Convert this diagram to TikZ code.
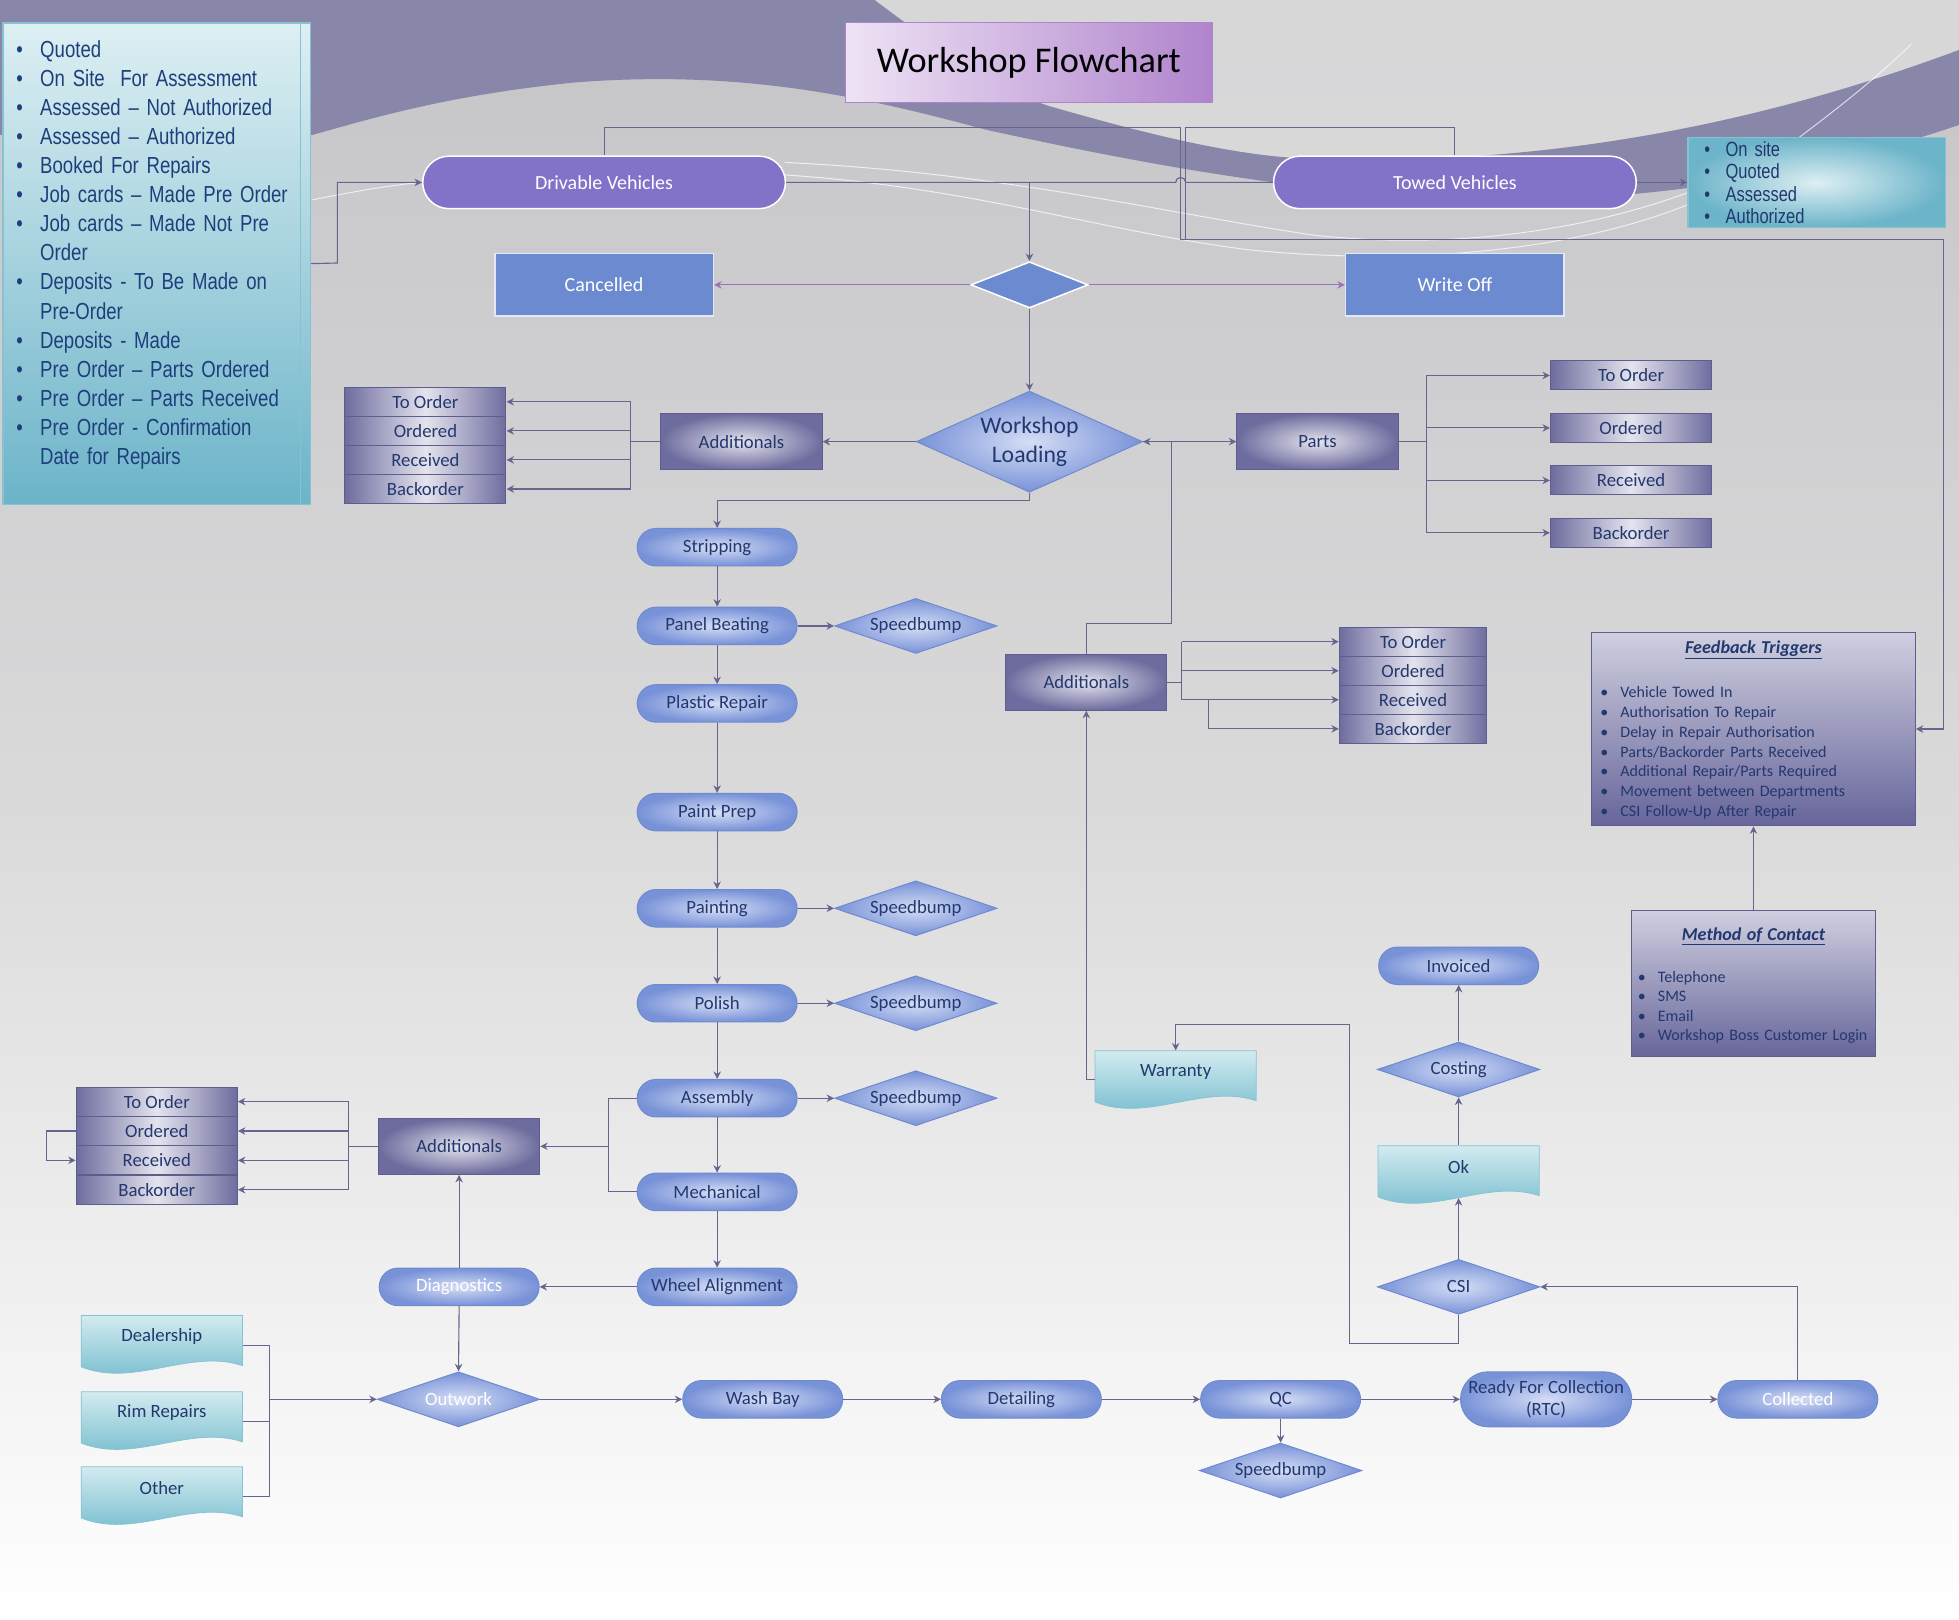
\documentclass[tikz,border=0pt]{standalone}
\usepackage{fontspec}
\setmainfont{Carlito}
\newfontfamily\narrowfont[FakeStretch=0.8, WordSpace=0.85]{Liberation Sans}
\usepackage{tikz}
\usetikzlibrary{arrows.meta}
\usetikzlibrary{shapes.geometric}
\usetikzlibrary{shapes.misc}
\usetikzlibrary{calc}
\setlength{\parindent}{0pt}

\definecolor{ink}{HTML}{22386E}
\definecolor{listink}{HTML}{1E3F7C}
\definecolor{wire}{HTML}{67658E}
\definecolor{violetwire}{HTML}{9B73B8}
\definecolor{vehiclefill}{HTML}{8472C9}
\definecolor{flatfill}{HTML}{6C8AD0}
\definecolor{stagein}{HTML}{D6DEF5}
\definecolor{stageout}{HTML}{7892D8}
\definecolor{stageline}{HTML}{6F8ACF}
\definecolor{slabin}{HTML}{E4E4EE}
\definecolor{slabout}{HTML}{6E6C9E}
\definecolor{slabline}{HTML}{5F5D8C}
\definecolor{docin}{HTML}{D2EBF0}
\definecolor{docout}{HTML}{6DB8CA}
\definecolor{docline}{HTML}{86C3D2}
\definecolor{panelin}{HTML}{CFCFE0}
\definecolor{panelout}{HTML}{67659A}
\definecolor{swoosh}{HTML}{8886A9}
\definecolor{bgtop}{HTML}{C5C5C8}
\definecolor{bgmid}{HTML}{DADADB}
\definecolor{titlein}{HTML}{EEE3F5}
\definecolor{titleout}{HTML}{B084CC}
\definecolor{listtop}{HTML}{DDEFF3}
\definecolor{listbottom}{HTML}{6CB4C9}

\tikzset{
  link/.style={draw=wire, line width=0.9pt},
  flow/.style={link, arrows={-Stealth[width=6pt, length=6pt]}},
  vflow/.style={draw=violetwire, line width=0.9pt, arrows={-Stealth[width=6pt, length=6pt]}},
  vehicle/.style={rounded rectangle, fill=vehiclefill, draw=white, line width=1.2pt, text=white,
    minimum width=297pt, minimum height=42pt, font=\fontsize{16}{19}\selectfont},
  flatbox/.style={rectangle, fill=flatfill, draw=white!80!flatfill, line width=1.2pt, text=white,
    minimum width=175pt, minimum height=50pt, font=\fontsize{16}{19}\selectfont},
  pivot/.style={diamond, shape aspect=2.5, inner sep=0pt, fill=flatfill, draw=white, line width=1.2pt,
    minimum width=94pt, minimum height=37pt},
  stage/.style={rounded rectangle, inner color=stagein, outer color=stageout, draw=stageline,
    line width=0.8pt, text=ink, minimum width=132pt, minimum height=30pt, inner sep=2pt,
    font=\fontsize{15}{18}\selectfont},
  gatebox/.style={diamond, shape aspect=3, inner sep=1pt, inner color=stagein, outer color=stageout,
    draw=stageline, line width=0.8pt, text=ink, minimum width=130pt, minimum height=44pt,
    font=\fontsize{15}{18}\selectfont},
  slab/.style={rectangle, inner color=slabin, outer color=slabout, draw=slabline, line width=0.8pt,
    text=ink, minimum width=129pt, minimum height=45pt, font=\fontsize{15}{18}\selectfont},
  rowbox/.style={rectangle, left color=slabout, right color=slabout, middle color=slabin,
    draw=slabline, line width=0.8pt, text=ink, minimum width=129pt, minimum height=23.3pt,
    inner sep=1pt, font=\fontsize{15}{18}\selectfont},
  paper/.style={rectangle, minimum width=129pt, minimum height=34pt, inner sep=1pt, text=ink,
    font=\fontsize{15}{18}\selectfont},
  docfill/.style={top color=docin, bottom color=docout, draw=docline, line width=0.6pt},
  panel/.style={rectangle, top color=panelin, bottom color=panelout, draw=slabline, line width=0.8pt},
  listbox/.style={rectangle, top color=listtop, bottom color=listbottom, draw=docline, line width=1pt},
}

\newcommand{\paperdoc}[4]{%
  \shade[docfill, shift={(#2,#3)}] (-64.5,-17) -- (64.5,-17) -- (64.5,23)
    .. controls (22,9) and (-22,41) .. (-64.5,24) -- cycle;
  \node[paper] (#1) at (#2,#3) {#4};}
\newcommand{\lbul}[1]{\makebox[19pt][l]{\textbullet}#1\par}
\newcommand{\lcont}[1]{\hspace*{19pt}#1\par}
\newcommand{\sbul}[1]{\makebox[17pt][l]{\textbullet}#1\par}
\newcommand{\fbul}[1]{\makebox[16pt][l]{\textbullet}#1\par}

\begin{document}
\begin{tikzpicture}[x=1pt, y=-1pt]
\useasboundingbox (0,0) rectangle (1568,1296);
\shade[top color=bgtop, bottom color=white, middle color=bgmid] (0,0) rectangle (1568,1296);
\fill[gray!22!white, opacity=0.6] (700,0) .. controls (760,45) and (800,72) .. (840,85)
  .. controls (920,108) and (980,122) .. (1030,126)
  .. controls (1200,135) and (1380,110) .. (1568,40) -- (1568,0) -- cycle;
\fill[swoosh] (0,0) -- (700,0) .. controls (760,45) and (800,72) .. (840,85)
  .. controls (920,108) and (980,122) .. (1030,126)
  .. controls (1200,135) and (1380,110) .. (1568,40) -- (1568,100)
  .. controls (1450,140) and (1330,160) .. (1200,160)
  .. controls (1050,158) and (900,128) .. (790,104)
  .. controls (700,80) and (600,55) .. (460,66)
  .. controls (360,76) and (300,94) .. (250,108) -- (0,108) -- cycle;
\draw[white, opacity=0.7, line width=0.8pt] (250,160) .. controls (290,152) and (315,148) .. (337,146);
\draw[white, opacity=0.7, line width=0.8pt] (628,130) .. controls (800,138) and (930,170) .. (1050,188)
  .. controls (1200,205) and (1350,170) .. (1440,110) .. controls (1480,80) and (1510,55) .. (1530,35);
\draw[white, opacity=0.7, line width=0.8pt] (628,140) .. controls (780,150) and (880,185) .. (1000,200)
  .. controls (1150,215) and (1280,195) .. (1360,160);

\node[rectangle, left color=titlein, right color=titleout, draw=titleout, line width=1pt,
  minimum width=293pt, minimum height=64pt, font=\fontsize{29}{34}\selectfont] (title) at (823.5,50)
  {Workshop Flowchart};

\node[listbox, minimum width=246pt, minimum height=385pt, anchor=north west] (statusbox) at (2,18) {};
\draw[docline] (240,18) -- (240,403);
\node[anchor=north west, text width=228pt, align=left, inner sep=0pt, text=listink,
  font=\narrowfont\fontsize{18.6}{23.3}\selectfont] (statuslist) at (13,32)
  {\raggedright\hyphenpenalty=10000
   \lbul{Quoted}\lbul{On Site\ \ For Assessment}\lbul{Assessed – Not Authorized}
   \lbul{Assessed – Authorized}\lbul{Booked For Repairs}\lbul{Job cards – Made Pre Order}
   \lbul{Job cards – Made Not Pre}\lcont{Order}\lbul{Deposits - To Be Made on}\lcont{Pre-Order}
   \lbul{Deposits - Made}\lbul{Pre Order – Parts Ordered}\lbul{Pre Order – Parts Received}
   \lbul{Pre Order - Confirmation}\lcont{Date for Repairs}};

\node[vehicle] (drivable) at (483.5,146) {Drivable Vehicles};
\node[vehicle] (towed) at (1164.5,146) {Towed Vehicles};
\node[rectangle, inner color=listtop, outer color=listbottom, draw=docline, line width=1pt,
  minimum width=206pt, minimum height=72pt] (sitebox) at (1454,146) {};
\node[anchor=north west, text width=180pt, align=left, inner sep=0pt, text=ink,
  font=\narrowfont\fontsize{16.5}{18}\selectfont] (sitelist) at (1364,113)
  {\sbul{On site}\sbul{Quoted}\sbul{Assessed}\sbul{Authorized}};

\node[pivot] (gate) at (824,228) {};
\node[flatbox] (cancelled) at (483.5,228) {Cancelled};
\node[flatbox] (writeoff) at (1164.5,228) {Write Off};

\node[gatebox, shape aspect=2.2, minimum width=181pt, minimum height=81pt, align=center,
  font=\fontsize{19}{23}\selectfont] (loading) at (824,353.5) {Workshop\\Loading};

\node[slab] (addl1) at (593.5,353.5) {Additionals};
\node[rowbox] (lto) at (340.5,321.6) {To Order};
\node[rowbox] (lord) at (340.5,344.9) {Ordered};
\node[rowbox] (lrec) at (340.5,368.1) {Received};
\node[rowbox] (lback) at (340.5,391.4) {Backorder};

\node[slab] (parts) at (1054.5,353.5) {Parts};
\node[rowbox] (pto) at (1305.5,300.5) {To Order};
\node[rowbox] (pord) at (1305.5,342.5) {Ordered};
\node[rowbox] (prec) at (1305.5,384.5) {Received};
\node[rowbox] (pback) at (1305.5,426.5) {Backorder};

\node[stage] (stripping) at (574,438) {Stripping};
\node[stage] (panel) at (574,501) {Panel Beating};
\node[stage] (plastic) at (574,563) {Plastic Repair};
\node[stage] (prep) at (574,650) {Paint Prep};
\node[stage] (painting) at (574,727) {Painting};
\node[stage] (polish) at (574,803) {Polish};
\node[stage] (assembly) at (574,879) {Assembly};
\node[stage] (mechanical) at (574,954) {Mechanical};
\node[stage] (wheel) at (574,1030) {Wheel Alignment};
\node[gatebox] (sb1) at (733,501) {Speedbump};
\node[gatebox] (sb2) at (733,727) {Speedbump};
\node[gatebox] (sb3) at (733,803) {Speedbump};
\node[gatebox] (sb4) at (733,879) {Speedbump};

\node[slab] (addl2) at (869.5,546) {Additionals};
\node[rowbox, minimum width=118pt] (mto) at (1131,513.6) {To Order};
\node[rowbox, minimum width=118pt] (mord) at (1131,536.9) {Ordered};
\node[rowbox, minimum width=118pt] (mrec) at (1131,560.1) {Received};
\node[rowbox, minimum width=118pt] (mback) at (1131,583.4) {Backorder};

\paperdoc{warranty}{941}{858}{Warranty}

\node[panel, minimum width=259pt, minimum height=155pt] (feedback) at (1403.5,583.5) {};
\node[anchor=north, text width=245pt, align=left, inner sep=0pt, text=ink,
  font=\fontsize{12.8}{15.9}\selectfont] (feedbacktext) at (1403.5,513)
  {{\centering\fontsize{14.5}{17}\selectfont\bfseries\itshape\underline{Feedback Triggers}\par}
   \vspace{19pt}
   \fbul{Vehicle Towed In}\fbul{Authorisation To Repair}\fbul{Delay in Repair Authorisation}
   \fbul{Parts/Backorder Parts Received}\fbul{Additional Repair/Parts Required}
   \fbul{Movement between Departments}\fbul{CSI Follow-Up After Repair}};
\node[panel, minimum width=195pt, minimum height=117pt] (method) at (1403.5,787.5) {};
\node[anchor=north, text width=185pt, align=left, inner sep=0pt, text=ink,
  font=\fontsize{12.8}{15.7}\selectfont] (methodtext) at (1403.5,742)
  {{\centering\fontsize{14.5}{17}\selectfont\bfseries\itshape\underline{Method of Contact}\par}
   \vspace{18pt}
   \fbul{Telephone}\fbul{SMS}\fbul{Email}\fbul{Workshop Boss Customer Login}};

\node[stage] (invoiced) at (1167.5,773) {Invoiced};
\node[gatebox] (costing) at (1167.5,856) {Costing};
\paperdoc{ok}{1167.5}{934}{Ok}
\node[gatebox] (csi) at (1167.5,1030) {CSI};

\node[slab] (addl3) at (367.5,917.5) {Additionals};
\node[rowbox] (bto) at (125.5,881.75) {To Order};
\node[rowbox] (bord) at (125.5,905.25) {Ordered};
\node[rowbox] (brec) at (125.5,928.75) {Received};
\node[rowbox] (bback) at (125.5,952.25) {Backorder};

\node[stage, text=white] (diag) at (367.5,1030) {Diagnostics};
\node[gatebox, text=white] (outwork) at (367,1120) {Outwork};
\node[stage] (washbay) at (610.5,1120) {Wash Bay};
\node[stage] (detailing) at (817.5,1120) {Detailing};
\node[stage] (qc) at (1025,1120) {QC};
\node[stage, minimum width=141pt, minimum height=44pt, align=center,
  font=\fontsize{15}{17}\selectfont] (rtc) at (1237.5,1120) {Ready For Collection\\(RTC)};
\node[stage, text=white] (collected) at (1439,1120) {Collected};
\node[gatebox] (sb5) at (1025,1177) {Speedbump};

\paperdoc{dealer}{129.5}{1070}{Dealership}
\paperdoc{rim}{129.5}{1131}{Rim Repairs}
\paperdoc{other}{129.5}{1191}{Other}

\draw[flow] (statusbox.east) -- (270,210.5) |- (drivable.west);
\draw[flow] (drivable.north) |- (945,102) -- (945,192) -| ($(feedback.east)+(22,0)$) -- (feedback.east);
\draw[link] (towed.north) |- (949,102) -- (949,192);
\draw[link] (drivable.east) -- (941,146) arc[start angle=180, end angle=0, radius=4pt] -- (towed.west);
\draw[flow] (drivable.east -| gate.north) -- (gate.north);
\draw[flow] (towed.east) -- (sitebox.west);
\draw[vflow] (gate.west) -- (cancelled.east);
\draw[vflow] (gate.east) -- (writeoff.west);
\draw[flow] (gate.south) -- (loading.north);

\draw[flow] (loading.west) -- (addl1.east);
\draw[link] (addl1.west) -- (505,353.5);
\draw[link] (505,321.6) -- (505,391.4);
\draw[flow] (505,321.6) -- (lto.east);
\draw[flow] (505,344.9) -- (lord.east);
\draw[flow] (505,368.1) -- (lrec.east);
\draw[flow] (505,391.4) -- (lback.east);

\draw[flow] (loading.east) -- (parts.west);
\draw[flow] (addl2.north) |- (938,499) |- (loading.east);
\draw[link] (parts.east) -- (1142,353.5);
\draw[link] (1142,300.5) -- (1142,426.5);
\draw[flow] (1142,300.5) -- (pto.west);
\draw[flow] (1142,342.5) -- (pord.west);
\draw[flow] (1142,384.5) -- (prec.west);
\draw[flow] (1142,426.5) -- (pback.west);

\draw[flow] (loading.south) -- ++(0,6) -| (stripping.north);
\draw[flow] (stripping.south) -- (panel.north);
\draw[flow] (panel.south) -- (plastic.north);
\draw[flow] (plastic.south) -- (prep.north);
\draw[flow] (prep.south) -- (painting.north);
\draw[flow] (painting.south) -- (polish.north);
\draw[flow] (polish.south) -- (assembly.north);
\draw[flow] (assembly.south) -- (mechanical.north);
\draw[flow] (mechanical.south) -- (wheel.north);
\draw[flow] (panel.east) -- (sb1.west);
\draw[flow] (painting.east) -- (sb2.west);
\draw[flow] (polish.east) -- (sb3.west);
\draw[flow] (assembly.east) -- (sb4.west);

\draw[link] (addl2.east) -- (946,546);
\draw[link] (946,513.6) -- (946,560.1);
\draw[flow] (946,513.6) -- (mto.west);
\draw[flow] (946,536.9) -- (mord.west);
\draw[flow] (946,560.1) -- (mrec.west);
\draw[flow] (967,560.1) |- (mback.west);

\draw[flow] ($(warranty.west)+(0,6)$) -| (addl2.south);
\draw[flow] (csi.south) |- (1080,1075) -- (1080,820) -| (warranty.north);
\draw[flow] (collected.north) |- (csi.east);
\draw[flow] (csi.north) -- ($(ok.center)+(0,25)$);
\draw[flow] (ok.north) -- (costing.south);
\draw[flow] (costing.north) -- (invoiced.south);
\draw[flow] (method.north) -- (feedback.south);

\draw[link] (assembly.west) -- (487,879) |- (mechanical.west);
\draw[flow] (487,917.5) -- (addl3.east);
\draw[link] (addl3.west) -- (279,917.5);
\draw[link] (279,881.75) -- (279,952.25);
\draw[flow] (279,881.75) -- (bto.east);
\draw[flow] (279,905.25) -- (bord.east);
\draw[flow] (279,928.75) -- (brec.east);
\draw[flow] (279,952.25) -- (bback.east);
\draw[flow] (bord.west) -- (37,905.25) |- (brec.west);

\draw[flow] (wheel.west) -- (diag.east);
\draw[flow] (diag.north) -- (addl3.south);
\draw[flow] (diag.south) -- (outwork.north);
\draw[link] ($(dealer.east)+(0,7)$) -- (216,1077);
\draw[link] ($(rim.east)+(0,7)$) -- (216,1138);
\draw[link] ($(other.east)+(0,7)$) -- (216,1198);
\draw[link] (216,1077) -- (216,1198);
\draw[flow] (216,1120) -- (outwork.west);
\draw[flow] (outwork.east) -- (washbay.west);
\draw[flow] (washbay.east) -- (detailing.west);
\draw[flow] (detailing.east) -- (qc.west);
\draw[flow] (qc.east) -- (rtc.west);
\draw[flow] (rtc.east) -- (collected.west);
\draw[flow] (qc.south) -- (sb5.north);
\end{tikzpicture}
\end{document}
